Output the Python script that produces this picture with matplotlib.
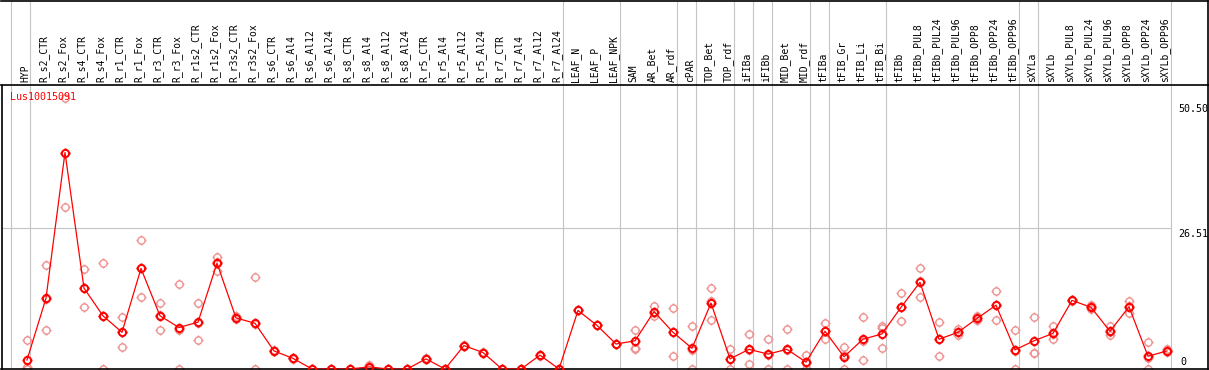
import matplotlib
matplotlib.use("Agg")
import matplotlib.pyplot as plt
from matplotlib.path import Path

W, H = 1209, 370
FONT = "DejaVu Sans Mono"
LINE_RED = "#ff0000"
REP_PINK = "#ee9292"
GRID = "#c4c4c4"

categories = [
    "HYP",
    "R_s2_CTR", "R_s2_Fox", "R_s4_CTR", "R_s4_Fox", "R_r1_CTR", "R_r1_Fox",
    "R_r3_CTR", "R_r3_Fox", "R_r1s2_CTR", "R_r1s2_Fox", "R_r3s2_CTR", "R_r3s2_Fox",
    "R_s6_CTR", "R_s6_Al4", "R_s6_Al12", "R_s6_Al24",
    "R_s8_CTR", "R_s8_Al4", "R_s8_Al12", "R_s8_Al24",
    "R_r5_CTR", "R_r5_Al4", "R_r5_Al12", "R_r5_Al24",
    "R_r7_CTR", "R_r7_Al4", "R_r7_Al12", "R_r7_Al24",
    "LEAF_N", "LEAF_P", "LEAF_NPK",
    "SAM", "AR_Bet", "AR_rdf", "cPAR", "TOP_Bet", "TOP_rdf",
    "iFIBa", "iFIBb", "MID_Bet", "MID_rdf",
    "tFIBa", "tFIB_Gr", "tFIB_Li", "tFIB_Bi",
    "tFIBb", "tFIBb_PUL8", "tFIBb_PUL24", "tFIBb_PUL96",
    "tFIBb_OPP8", "tFIBb_OPP24", "tFIBb_OPP96",
    "sXYLa", "sXYLb", "sXYLb_PUL8", "sXYLb_PUL24", "sXYLb_PUL96",
    "sXYLb_OPP8", "sXYLb_OPP24", "sXYLb_OPP96",
]

means = [
    1.7,
    13.3, 40.7, 15.2, 10.0, 6.9, 18.9, 10.0, 7.8, 8.8, 19.9, 9.6, 8.6,
    3.4, 2.0, 0.0, 0.0, 0.0, 0.4, 0.0, 0.0,
    1.9, 0.0, 4.4, 3.1, 0.0, 0.0, 2.6, 0.0,
    11.0, 8.2, 4.7,
    5.3, 10.8, 6.9, 3.9, 12.4, 1.9,
    3.7, 2.8, 3.7, 1.3,
    7.1, 2.3, 5.6, 6.6,
    11.6, 16.3, 5.6, 6.9, 9.5, 12.0, 3.6,
    5.3, 6.7, 12.9, 11.6, 7.1, 11.7, 2.4, 3.4,
]

rep_a = [
    5.4,
    19.5, 51.0, 18.8, 19.9, 9.7, 24.2, 12.5, 16.0, 12.4, 21.1, 9.9, 17.3,
    3.5, 2.1, 0.0, 0.0, 0.0, 0.8, 0.0, 0.0,
    2.0, 0.0, 4.5, 3.2, 0.0, 0.0, 2.7, 0.0,
    11.0, 8.2, 4.7,
    7.3, 11.8, 11.4, 8.0, 15.2, 3.7,
    6.6, 5.6, 7.5, 2.6,
    8.6, 4.1, 9.8, 8.0,
    14.2, 18.9, 8.8, 7.5, 10.0, 14.6, 7.3,
    9.7, 8.0, 13.0, 12.0, 8.0, 12.8, 5.0, 3.7,
]

rep_b = [
    0.3,
    7.3, 30.4, 11.6, 0.0, 4.1, 13.5, 7.3, 0.0, 5.4, 18.5, 9.4, 0.0,
    3.3, 1.9, 0.0, 0.0, 0.0, 0.2, 0.0, 0.0,
    1.8, 0.0, 4.3, 3.0, 0.0, 0.0, 2.5, 0.0,
    11.0, 8.2, 4.7,
    4.0, 10.0, 2.4, 0.0, 9.3, 0.0,
    0.9, 0.0, 0.0, 0.0,
    5.6, 0.0, 1.7, 7.7,
    9.0, 13.5, 2.4, 6.3, 9.3, 9.3, 0.0,
    3.1, 5.6, 12.8, 11.2, 6.3, 10.5, 0.0, 3.2,
]

rep_c = [
    0.0,
    13.1, 40.7, 15.2, 10.0, 6.9, 19.0, 10.2, 7.3, 8.6, 20.1, 9.5, 8.4,
    3.4, 2.0, 0.0, 0.0, 0.0, 0.2, 0.0, 0.0,
    1.9, 0.0, 4.4, 3.1, 0.0, 0.0, 2.6, 0.0,
    11.0, 8.2, 4.7,
    3.7, 10.6, 6.9, 3.6, 12.7, 1.9,
    3.6, 2.7, 3.5, 1.2,
    7.1, 2.7, 5.3, 4.0,
    11.6, 16.5, 5.6, 6.9, 9.2, 12.1, 3.4,
    3.0, 6.5, 12.9, 11.6, 7.0, 11.8, 2.1, 3.3,
]

# index of the last category of each group (-1 = left edge)
group_ends = [-1, 0, 28, 31, 34, 35, 37, 38, 39, 41, 42, 45, 52, 53, 60]

gene = "Lus10015091"
y_top_label = "50.50"
y_mid = 26.51
y_mid_label = "26.51"

# layout in pixels
X0, STEP = 27, 19
PX_PER_UNIT = 141 / 26.51
HEAD_BOTTOM = 85
PLOT_BOTTOM = 369


def make_marker():
    circ = Path.unit_circle()
    circ = Path(circ.vertices * 0.72, circ.codes)
    ticks = Path(
        [(0, 0.72), (0, 1.0), (0, -0.72), (0, -1.0),
         (0.72, 0), (1.0, 0), (-0.72, 0), (-1.0, 0)],
        [Path.MOVETO, Path.LINETO] * 4,
    )
    return Path.make_compound_path(circ, ticks)


marker = make_marker()
xs = list(range(len(categories)))

fig = plt.figure(figsize=(W / 100, H / 100), dpi=100)
left = 1.5 / W
width = (1208 - 1.5) / W
ax = fig.add_axes([left, (H - PLOT_BOTTOM) / H, width, (PLOT_BOTTOM - HEAD_BOTTOM) / H])
axh = fig.add_axes([left, (H - HEAD_BOTTOM) / H, width, (HEAD_BOTTOM - 0.5) / H])

xlim = ((1.5 - X0) / STEP, (1208 - X0) / STEP)
for a in (ax, axh):
    a.set_xlim(*xlim)
    a.set_xticks([])
    a.set_yticks([])
    for g in group_ends:
        a.axvline(g + 3.5 / STEP, color=GRID, lw=0.8, zorder=0)
ax.set_ylim(0, (PLOT_BOTTOM - HEAD_BOTTOM) / PX_PER_UNIT)
axh.set_ylim(0, 1)

for s in ax.spines.values():
    s.set_linewidth(1.2)
ax.spines["top"].set_visible(False)
axh.spines["left"].set_visible(False)
for s in ("top", "right", "bottom"):
    axh.spines[s].set_linewidth(1.2)

ax.hlines(y_mid, xlim[0], group_ends[-1] + 3.5 / STEP, color=GRID, lw=0.8, zorder=0)

# replicates
for reps in (rep_a, rep_b, rep_c):
    ax.plot(xs, reps, ls="none", marker=marker, ms=7.2, mfc="none",
            mec=REP_PINK, mew=1.0, zorder=2)

# means
ax.plot(xs, means, color=LINE_RED, lw=0.9, marker=marker, ms=7.2, mfc="none",
        mec=LINE_RED, mew=1.4, zorder=3)

# column labels
for i, name in enumerate(categories):
    axh.text(i - 2 / STEP, 3 / HEAD_BOTTOM, name, rotation=90, ha="center", va="bottom",
             family=FONT, fontsize=7, color="black")

# y labels in the right margin
xr = (1178 - X0) / STEP
ax.text(xr, 49.8, y_top_label, ha="left", va="top", family=FONT, fontsize=7.2, clip_on=False)
ax.text(xr, y_mid - 0.2, y_mid_label, ha="left", va="top", family=FONT, fontsize=7.2, clip_on=False)
ax.text(xr + 0.15, 0.3, "0", ha="left", va="bottom", family=FONT, fontsize=7.2, clip_on=False)

fig.text(10 / W, 1 - 97 / H, gene, ha="left", va="center", family=FONT,
         fontsize=7.2, color=LINE_RED)

fig.savefig("out.png", dpi=100)
